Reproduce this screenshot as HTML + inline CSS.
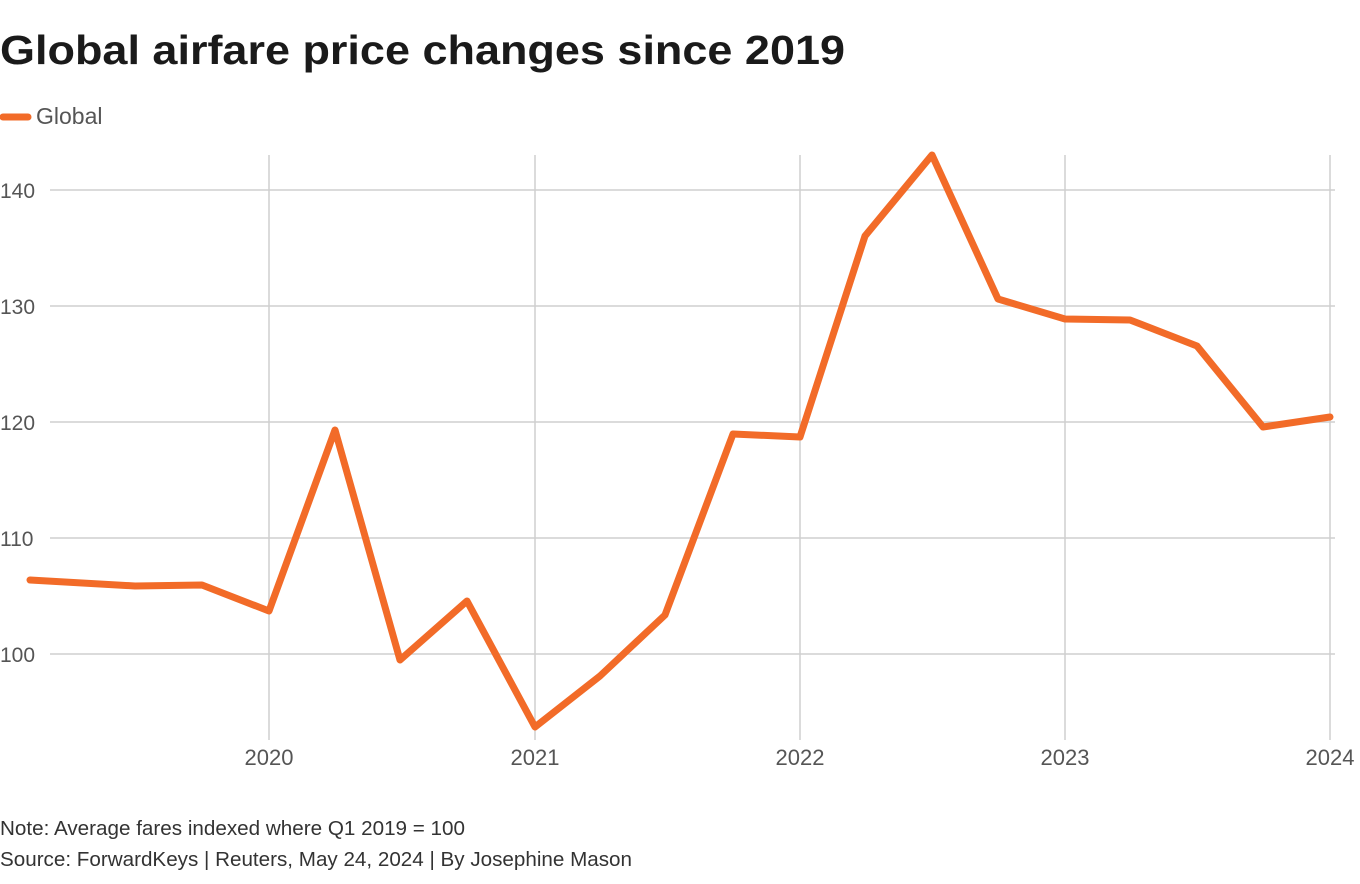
<!DOCTYPE html>
<html><head><style>
body{margin:0;background:#fff;width:1360px;height:879px;overflow:hidden;font-family:"Liberation Sans",sans-serif}
</style></head><body>
<svg width="1360" height="879" xmlns="http://www.w3.org/2000/svg" font-family="Liberation Sans, sans-serif">
<text x="0" y="64" font-size="41" font-weight="bold" fill="#1a1a1a" textLength="845" lengthAdjust="spacingAndGlyphs">Global airfare price changes since 2019</text>
<line x1="3" y1="117" x2="28" y2="117" stroke="#f26b28" stroke-width="7" stroke-linecap="round"/>
<text x="36" y="124" font-size="23" fill="#555">Global</text>
<g stroke="#cfcfcf" stroke-width="1.5">
<line x1="50" y1="190" x2="1335" y2="190"/>
<line x1="50" y1="306" x2="1335" y2="306"/>
<line x1="50" y1="422" x2="1335" y2="422"/>
<line x1="50" y1="538" x2="1335" y2="538"/>
<line x1="50" y1="654" x2="1335" y2="654"/>
<line x1="269" y1="155" x2="269" y2="740"/>
<line x1="535" y1="155" x2="535" y2="740"/>
<line x1="800" y1="155" x2="800" y2="740"/>
<line x1="1065" y1="155" x2="1065" y2="740"/>
<line x1="1330" y1="155" x2="1330" y2="740"/>
</g>
<g font-size="21" fill="#555">
<text x="0" y="198">140</text><text x="0" y="314">130</text><text x="0" y="430">120</text><text x="0" y="546">110</text><text x="0" y="662">100</text>
</g>
<g font-size="22" fill="#555" text-anchor="middle">
<text x="269" y="765">2020</text><text x="535" y="765">2021</text><text x="800" y="765">2022</text><text x="1065" y="765">2023</text><text x="1330" y="765">2024</text>
</g>
<polyline fill="none" stroke="#f26b28" stroke-width="7" stroke-linejoin="round" stroke-linecap="round"
points="30,580 135,586 202,585 269,611 335,430 400,660 467,601 535,727 600,676 665,615 733,434 800,437 865,236 932,155 998,299 1065,319 1130,320 1197,346 1263,427 1330,417"/>
<text x="0" y="835" font-size="20" fill="#333" textLength="465" lengthAdjust="spacingAndGlyphs">Note: Average fares indexed where Q1 2019 = 100</text>
<text x="0" y="866" font-size="20" fill="#333" textLength="632" lengthAdjust="spacingAndGlyphs">Source: ForwardKeys | Reuters, May 24, 2024 | By Josephine Mason</text>
</svg>
</body></html>
